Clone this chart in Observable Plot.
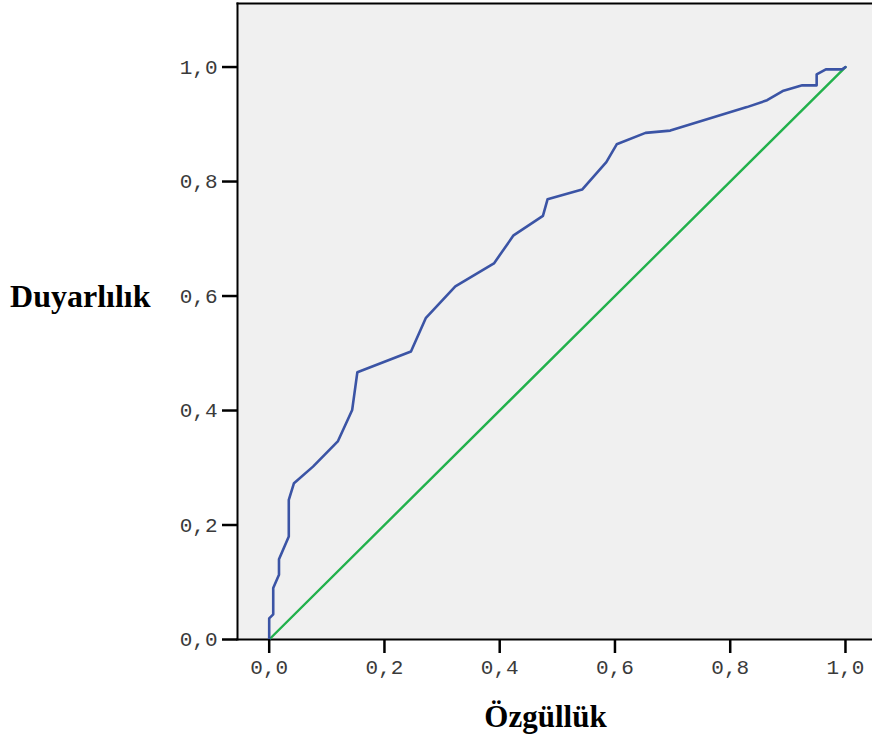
<!DOCTYPE html>
<html>
<head>
<meta charset="utf-8">
<script src="https://cdn.jsdelivr.net/npm/d3@7"></script>
<script src="https://cdn.jsdelivr.net/npm/@observablehq/plot@0.6"></script>
<style>
  html, body { margin: 0; padding: 0; background: #ffffff; }
  #chart svg { display: block; }
</style>
</head>
<body>
<div id="chart"></div>
<script>
// ROC curve: 1 - specificity (x) vs sensitivity (y)
const rocX = [0, 0, 0.007, 0.007, 0.017, 0.017, 0.034, 0.034, 0.043, 0.076, 0.119, 0.144, 0.153, 0.246, 0.272, 0.323, 0.390, 0.424, 0.475, 0.483, 0.543, 0.585, 0.603, 0.653, 0.696, 0.829, 0.864, 0.891, 0.925, 0.950, 0.950, 0.966, 0.994, 1];
const rocY = [0, 0.037, 0.044, 0.090, 0.113, 0.140, 0.180, 0.244, 0.273, 0.302, 0.346, 0.401, 0.467, 0.503, 0.562, 0.617, 0.657, 0.706, 0.740, 0.769, 0.786, 0.834, 0.865, 0.885, 0.889, 0.930, 0.942, 0.958, 0.968, 0.968, 0.987, 0.996, 0.996, 1];
// Reference (chance) line
const refX = [0, 1];
const refY = [0, 1];
// Ticks
const xTicks = [0, 0.2, 0.4, 0.6, 0.8, 1.0];
const yTicks = [0, 0.2, 0.4, 0.6, 0.8, 1.0];
// Titles
const xTitle = "Özgüllük";
const yTitle = "Duyarlılık";

const roc = rocX.map((x, i) => ({x, y: rocY[i]}));
const ref = refX.map((x, i) => ({x, y: refY[i]}));
const fmt = d => d.toFixed(1).replace(".", ",");

const chart = Plot.plot({
  width: 872,
  height: 742,
  marginLeft: 237,
  marginRight: 0,
  marginTop: 3,
  marginBottom: 103,
  style: {
    background: "#ffffff",
    fontFamily: "'Liberation Mono', 'DejaVu Sans Mono', monospace",
    fontSize: "21px",
    color: "#3a3a3a",
    overflow: "visible"
  },
  x: {domain: [-0.055, 1.0469]},
  y: {domain: [0, 1.111]},
  marks: [
    Plot.frame({fill: "#f0f0f0", stroke: null}),
    Plot.frame({anchor: "top", stroke: "#000", strokeWidth: 2}),
    Plot.frame({anchor: "left", stroke: "#000", strokeWidth: 2}),
    Plot.frame({anchor: "bottom", stroke: "#000", strokeWidth: 2}),
    Plot.line(ref, {x: "x", y: "y", stroke: "#22b14c", strokeWidth: 2.4}),
    Plot.line(roc, {x: "x", y: "y", stroke: "#3b54a5", strokeWidth: 2.6}),
    Plot.axisX({ticks: xTicks, tickFormat: fmt, tickSize: 14, tickPadding: 6, strokeWidth: 2.5, stroke: "#000", label: null}),
    Plot.axisY({ticks: yTicks, tickFormat: fmt, tickSize: 15, tickPadding: 5, strokeWidth: 2.5, stroke: "#000", label: null}),
    Plot.text([xTitle], {
      text: d => d, frameAnchor: "bottom", lineAnchor: "bottom",
      dx: -9.5, dy: 87,
      fontFamily: "'Liberation Serif', 'Times New Roman', serif",
      fontWeight: "bold", fontSize: 31, fill: "#000"
    }),
    Plot.text([yTitle], {
      text: d => d, frameAnchor: "left", lineAnchor: "bottom", textAnchor: "end",
      dx: -87, dy: -14.3,
      fontFamily: "'Liberation Serif', 'Times New Roman', serif",
      fontWeight: "bold", fontSize: 32, fill: "#000"
    })
  ]
});
document.getElementById("chart").appendChild(chart);
</script>
</body>
</html>
